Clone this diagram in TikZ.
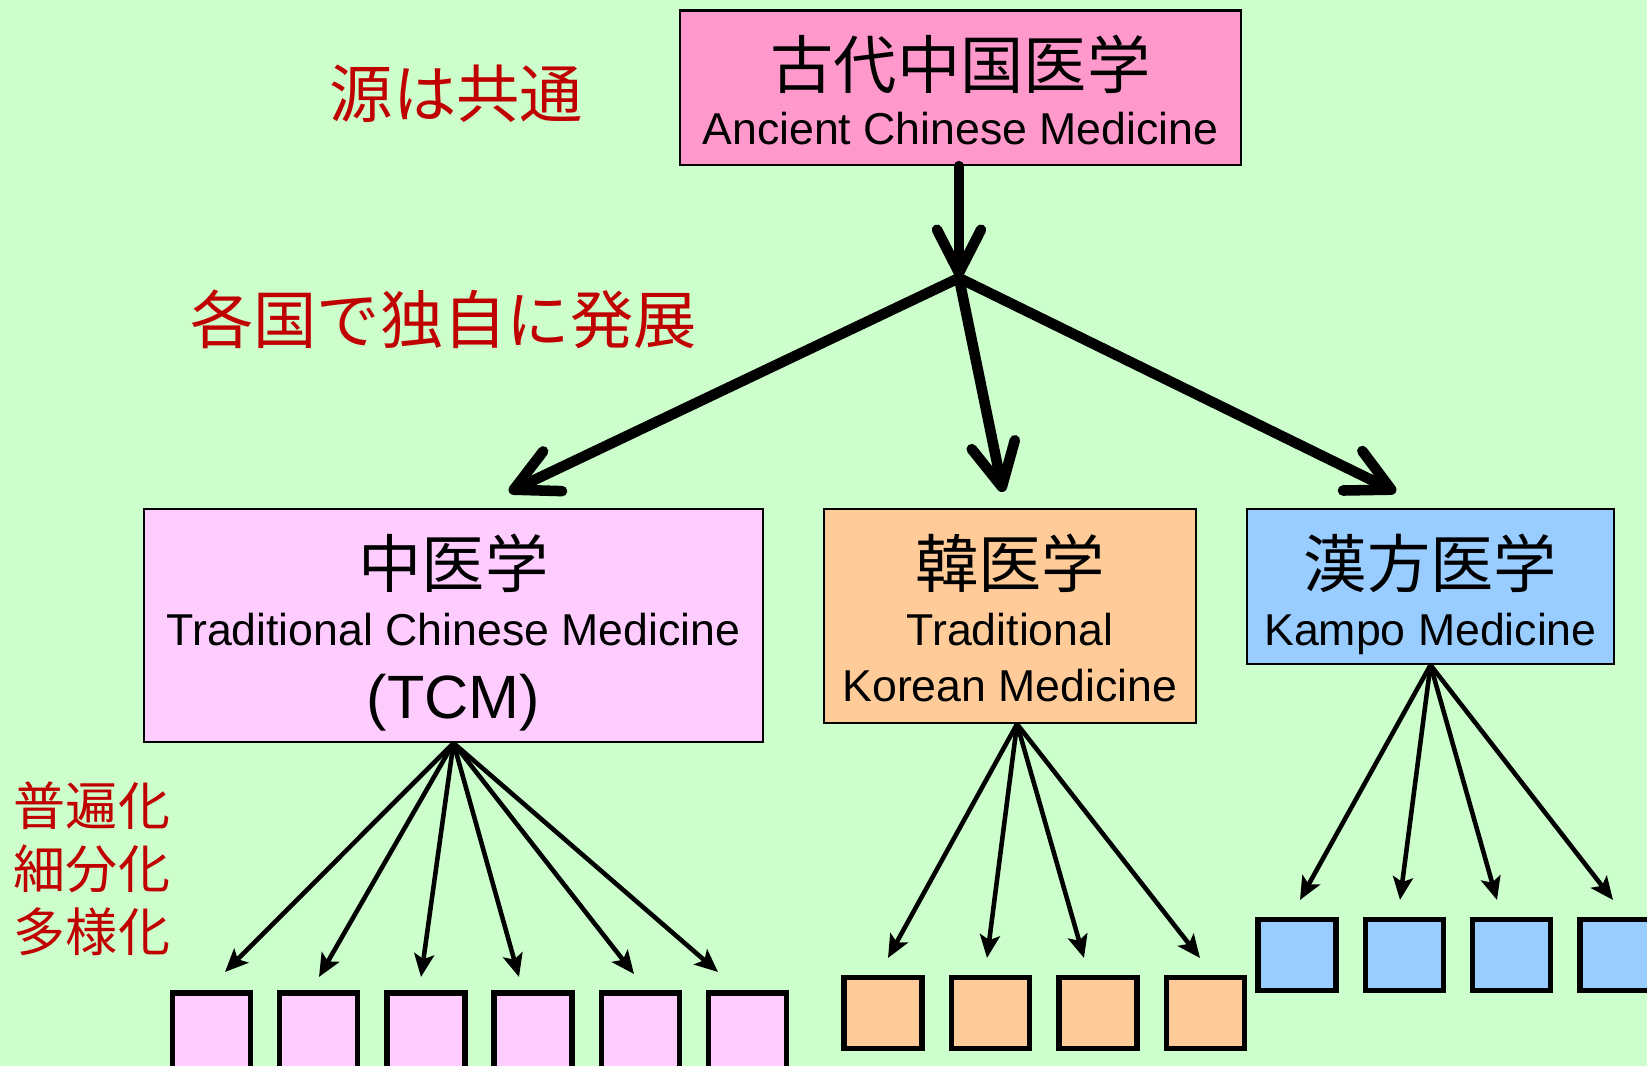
\documentclass[tikz,border=0pt]{standalone}
\usepackage{fontspec}
\setmainfont{Liberation Sans}
\newfontfamily\jafont{Noto Sans CJK JP}
\usetikzlibrary{arrows.meta}

\begin{document}
\begin{tikzpicture}[x=1cm, y=-1cm]
    % Define colours
    \definecolor{bgColour}{HTML}{CCFFCC}
    \definecolor{ancientColour}{HTML}{FF99CC}
    \definecolor{tcmColour}{HTML}{FFCCFF}
    \definecolor{koreanColour}{HTML}{FFCC99}
    \definecolor{kampoColour}{HTML}{99CCFF}
    \definecolor{noteColour}{HTML}{C00000}

    % Define styles
    \tikzset{
        bigbox/.style={draw=black, line width=0.6pt, inner sep=0pt},
        subbox/.style={draw=black, line width=1.5pt, inner sep=0pt, minimum width=0.78cm, minimum height=0.71cm},
        jatitle/.style={font=\jafont\fontsize{18}{18}\selectfont},
        entext/.style={font=\fontsize{12.7}{12.7}\selectfont, anchor=base},
        note/.style={text=noteColour, font=\jafont\fontsize{18}{18}\selectfont},
        branch/.style={line width=3pt, line cap=round, -{Straight Barb[length=4.3mm, width=4.4mm, round]}},
        twig/.style={line width=1.3pt, -{Stealth[length=2.3mm, width=2mm, inset=0.5mm]}}
    }

    % Page size and background
    \useasboundingbox (0,0) rectangle (16.47,10.66);
    \clip (0,0) rectangle (16.47,10.66);
    \fill[bgColour] (0,0) rectangle (16.47,10.66);

    % Common origin
    \node[bigbox, fill=ancientColour, minimum width=5.61cm, minimum height=1.545cm] (anc) at (9.605,0.878) {};
    \node[jatitle] (ancJa) at (9.605,0.645) {古代中国医学};
    \node[entext] (ancEn) at (9.605,1.45) {Ancient Chinese Medicine};

    % Three national branches
    \node[bigbox, fill=tcmColour, minimum width=6.19cm, minimum height=2.33cm] (tcm) at (4.535,6.255) {};
    \node[jatitle] (tcmJa) at (4.535,5.63) {中医学};
    \node[entext] (tcmEn) at (4.535,6.46) {Traditional Chinese Medicine};
    \node[entext, font=\fontsize{17.4}{17.4}\selectfont] (tcmAbbr) at (4.535,7.185) {(TCM)};

    \node[bigbox, fill=koreanColour, minimum width=3.72cm, minimum height=2.14cm] (kor) at (10.10,6.16) {};
    \node[jatitle] (korJa) at (10.10,5.63) {韓医学};
    \node[entext] (korEn) at (10.10,6.46) {Traditional};
    \node[entext] (korEnB) at (10.10,7.02) {Korean Medicine};

    \node[bigbox, fill=kampoColour, minimum width=3.67cm, minimum height=1.55cm] (kam) at (14.305,5.865) {};
    \node[jatitle] (kamJa) at (14.305,5.63) {漢方医学};
    \node[entext] (kamEn) at (14.305,6.46) {Kampo Medicine};

    % Notes in red
    \node[note] (srcNote) at (4.565,0.935) {源は共通};
    \node[note] (devNote) at (4.435,3.195) {各国で独自に発展};
    \node[note, font=\jafont\fontsize{14.8}{17.9}\selectfont, align=center] (divNote) at (0.92,8.69) {普遍化\\細分化\\多様化};

    % Big arrows through the hub
    \coordinate (hub) at (9.59,2.78);
    \coordinate (tcmTip) at (5.09,4.92);
    \coordinate (korTip) at (10.03,4.92);
    \coordinate (kamTip) at (13.96,4.92);
    \draw[branch] (anc.south -| hub) -- (hub);
    \draw[branch] (hub) -- (tcmTip);
    \draw[branch] (hub) -- (korTip);
    \draw[branch] (hub) -- (kamTip);

    % Small boxes and their arrows
    \foreach \i in {1,...,6}
        \node[subbox, fill=tcmColour, minimum height=0.8cm] (tcmSub\i) at ({2.115+1.072*(\i-1)},10.33) {};
    \foreach \tx/\ty [count=\i] in {2.25/9.72, 3.19/9.77, 4.21/9.77, 5.19/9.77, 6.34/9.74, 7.18/9.72} {
        \coordinate (tcmEnd\i) at (\tx,\ty);
        \draw[twig] (tcm.south) -- (tcmEnd\i);
    }

    \foreach \i in {1,...,4}
        \node[subbox, fill=koreanColour] (korSub\i) at ({8.83+1.075*(\i-1)},10.13) {};
    \foreach \tx/\ty [count=\i] in {8.88/9.58, 9.87/9.58, 10.84/9.58, 12.00/9.58} {
        \coordinate (korEnd\i) at (\tx,\ty);
        \draw[twig] ([xshift=2pt]kor.south) -- (korEnd\i);
    }

    \foreach \i in {1,...,4}
        \node[subbox, fill=kampoColour] (kamSub\i) at ({12.97+1.073*(\i-1)},9.55) {};
    \foreach \tx/\ty [count=\i] in {13.00/9.00, 14.00/9.00, 14.97/9.00, 16.13/9.00} {
        \coordinate (kamEnd\i) at (\tx,\ty);
        \draw[twig] (kam.south) -- (kamEnd\i);
    }
\end{tikzpicture}
\end{document}
